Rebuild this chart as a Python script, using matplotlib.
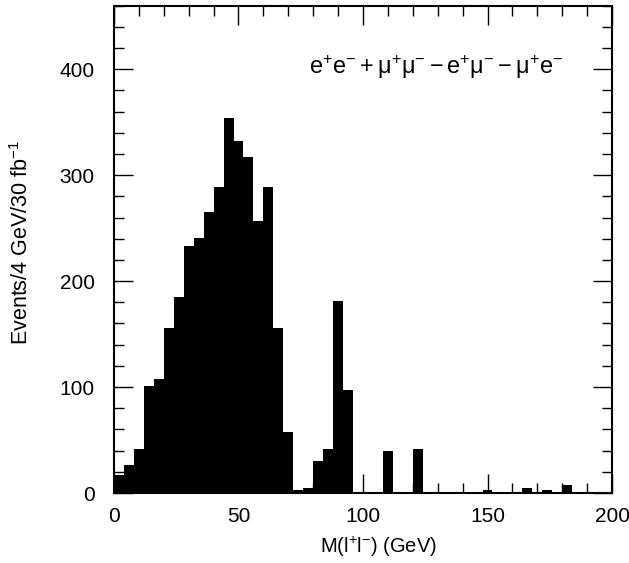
import numpy as np
import matplotlib
matplotlib.use("Agg")
import matplotlib.pyplot as plt
from matplotlib.ticker import MultipleLocator

# dilepton mass histogram, 4 GeV bins from 0 to 200
bin_edges = np.arange(0, 204, 4)
counts = [17, 26, 42, 101, 108, 156, 185, 233, 241, 265,
          289, 354, 332, 317, 257, 289, 156, 58, 3, 5,
          30, 42, 181, 97, 0, 0, 0, 40, 0, 0,
          42, 0, 0, 0, 0, 0, 0, 3, 0, 0,
          0, 5, 0, 3, 0, 8, 0, 0, 0, 0]

plt.rcParams['font.family'] = ['Liberation Sans', 'DejaVu Sans']
plt.rcParams['mathtext.fontset'] = 'custom'
plt.rcParams['mathtext.rm'] = 'Liberation Sans'
plt.rcParams['mathtext.it'] = 'Liberation Sans'

fig = plt.figure(figsize=(6.29, 5.63), dpi=100)
ax = fig.add_axes([0.1812, 0.1243, 0.7918, 0.8657])

ax.stairs(counts, bin_edges, fill=True, color='black')

ax.set_xlim(0, 200)
ax.set_ylim(0, 460)
ax.xaxis.set_major_locator(MultipleLocator(50))
ax.xaxis.set_minor_locator(MultipleLocator(10))
ax.yaxis.set_major_locator(MultipleLocator(100))
ax.yaxis.set_minor_locator(MultipleLocator(20))
ax.tick_params(which='both', direction='in', top=True, right=True,
               labelsize=15, width=1.0, color='black')
ax.tick_params(which='major', length=14)
ax.tick_params(which='minor', length=7)
ax.tick_params(axis='y', which='major', pad=14)
ax.tick_params(axis='x', which='major', pad=10)
for s in ax.spines.values():
    s.set_linewidth(1.5)

ax.text(78.5, 402, r'$\mathrm{e^{+}e^{-} + \mu^{+}\mu^{-} - e^{+}\mu^{-} - \mu^{+}e^{-}}$',
        fontsize=16.8, va='center', ha='left')

ax.set_xlabel(r'M(l$^{+}$l$^{-}$) (GeV)', fontsize=14.5)
ax.set_ylabel(r'Events/4 GeV/30 fb$^{-1}$', fontsize=15.5)
ax.xaxis.set_label_coords(0.532, -0.086)
ax.yaxis.set_label_coords(-0.163, 0.515)

fig.savefig('out.png', dpi=100)
